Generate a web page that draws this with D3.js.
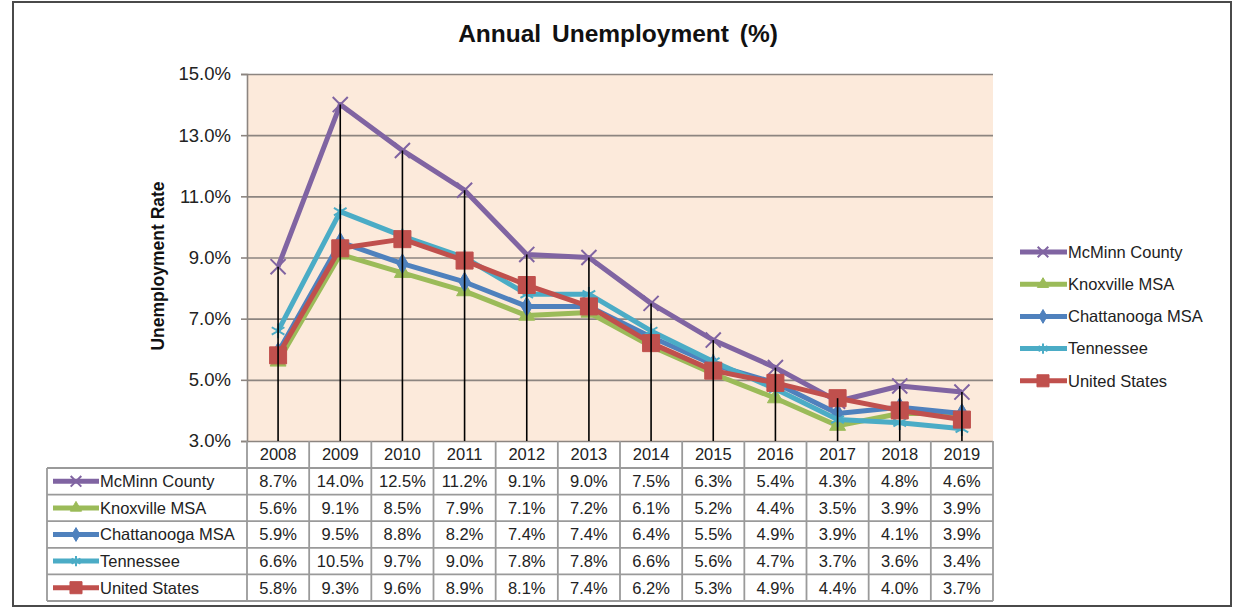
<!DOCTYPE html>
<html>
<head>
<meta charset="utf-8">
<script src="https://cdn.jsdelivr.net/npm/d3@7/dist/d3.min.js"></script>
<style>
  html, body { margin: 0; padding: 0; background: #fff; }
  svg { display: block; font-family: "Liberation Sans", Arial, sans-serif; }
</style>
</head>
<body>
<svg id="chart" width="1233" height="609"></svg>
<script>
// Annual unemployment rates (%) by area, 2008–2019
const years = ["2008","2009","2010","2011","2012","2013","2014","2015","2016","2017","2018","2019"];
const seriesNames = ["McMinn County", "Knoxville MSA", "Chattanooga MSA", "Tennessee", "United States"];
const mcminn      = [8.7, 14.0, 12.5, 11.2, 9.1, 9.0, 7.5, 6.3, 5.4, 4.3, 4.8, 4.6];
const knoxville   = [5.6, 9.1, 8.5, 7.9, 7.1, 7.2, 6.1, 5.2, 4.4, 3.5, 3.9, 3.9];
const chattanooga = [5.9, 9.5, 8.8, 8.2, 7.4, 7.4, 6.4, 5.5, 4.9, 3.9, 4.1, 3.9];
const tennessee   = [6.6, 10.5, 9.7, 9.0, 7.8, 7.8, 6.6, 5.6, 4.7, 3.7, 3.6, 3.4];
const unitedStates= [5.8, 9.3, 9.6, 8.9, 8.1, 7.4, 6.2, 5.3, 4.9, 4.4, 4.0, 3.7];
const yTicks = [3, 5, 7, 9, 11, 13, 15];

const seriesValues = [mcminn, knoxville, chattanooga, tennessee, unitedStates];
const colors = ["#8064A2", "#9BBB59", "#4F81BD", "#4BACC6", "#C0504D"];
// marker shape and whether it is stroked (open) or filled
const markers = [
  { type: d3.symbolTimes, size: 150, stroke: true },
  { type: d3.symbolTriangle, size: 110, stroke: false },
  { type: d3.symbolDiamond, size: 110, stroke: false },
  { type: d3.symbolAsterisk, size: 150, stroke: true },
  { type: d3.symbolSquare, size: 290, stroke: false }
];

const series = seriesNames.map((name, i) => ({
  name, color: colors[i], marker: markers[i],
  values: years.map((yr, j) => ({ year: yr, value: seriesValues[i][j] }))
}));

const svg = d3.select("#chart");

// outer frame
svg.append("rect").attr("x", 13).attr("y", 2).attr("width", 1218).attr("height", 604)
  .attr("fill", "#fff").attr("stroke", "#4a4a4a").attr("stroke-width", 2);

const plot = { left: 247, right: 993, top: 74, bottom: 441 };

const x = d3.scaleBand().domain(years).range([plot.left, plot.right]);
const y = d3.scaleLinear().domain([3, 15]).range([plot.bottom, plot.top]);

// title
svg.append("text").attr("x", 618).attr("y", 42).attr("text-anchor", "middle")
  .attr("font-size", 24.5).attr("font-weight", "bold").attr("fill", "#111")
  .attr("word-spacing", 4)
  .text("Annual Unemployment (%)");

// plot background
svg.append("rect").attr("x", plot.left).attr("y", plot.top)
  .attr("width", plot.right - plot.left).attr("height", plot.bottom - plot.top)
  .attr("fill", "#FCEADB");

// horizontal gridlines
const grid = svg.append("g").attr("transform", `translate(${plot.left},0)`)
  .call(d3.axisLeft(y).tickValues(yTicks).tickSize(-(plot.right - plot.left)).tickFormat(""));
grid.select(".domain").remove();
grid.selectAll(".tick line").attr("stroke", "#8c8580").attr("stroke-width", 1.6);

// y axis
const yAxis = svg.append("g").attr("transform", `translate(${plot.left},0)`)
  .call(d3.axisLeft(y).tickValues(yTicks).tickSize(6).tickPadding(10)
    .tickFormat(d => d.toFixed(1) + "%"));
yAxis.select(".domain").attr("stroke", "#8c8580").attr("stroke-width", 1.6);
yAxis.selectAll(".tick line").attr("stroke", "#8c8580").attr("stroke-width", 1.6);
yAxis.selectAll(".tick text").attr("font-size", 18.5).attr("fill", "#222")
  .attr("font-family", "Liberation Sans, Arial, sans-serif");

// y axis title
svg.append("text").attr("transform", "translate(164,266) rotate(-90)")
  .attr("text-anchor", "middle").attr("font-size", 17.5).attr("font-weight", "bold")
  .attr("fill", "#111").text("Unemployment Rate");

const line = d3.line().x(d => x(d.year) + x.bandwidth() / 2).y(d => y(d.value));

function drawMarker(sel, s) {
  const sym = d3.symbol().type(s.marker.type).size(s.marker.size);
  sel.attr("d", sym)
    .attr("fill", s.marker.stroke ? "none" : s.color)
    .attr("stroke", s.color)
    .attr("stroke-width", s.marker.stroke ? 2 : 1);
}

// series lines and markers
series.forEach(s => {
  const g = svg.append("g");
  g.append("path").datum(s.values).attr("d", line)
    .attr("fill", "none").attr("stroke", s.color).attr("stroke-width", 5)
    .attr("stroke-linejoin", "round");
  g.selectAll("path.m").data(s.values).join("path").attr("class", "m")
    .attr("transform", d => `translate(${x(d.year) + x.bandwidth() / 2},${y(d.value)})`)
    .call(sel => drawMarker(sel, s));
});

// drop lines from the highest value in each year down to the axis
svg.append("g").selectAll("line").data(years).join("line")
  .attr("x1", d => x(d) + x.bandwidth() / 2).attr("x2", d => x(d) + x.bandwidth() / 2)
  .attr("y1", (d, j) => y(d3.max(seriesValues, v => v[j])))
  .attr("y2", plot.bottom)
  .attr("stroke", "#000").attr("stroke-width", 1.6);

// legend
const legend = svg.append("g");
series.forEach((s, i) => {
  const ly = 252 + i * 32.2;
  const g = legend.append("g").attr("transform", `translate(0,${ly})`);
  g.append("line").attr("x1", 1020).attr("x2", 1067).attr("stroke", s.color).attr("stroke-width", 5);
  g.append("path").attr("transform", "translate(1043,0)")
    .call(sel => drawMarker(sel.datum(null), { ...s, marker: { ...s.marker, size: s.marker.size * 0.5 } }));
  g.append("text").attr("x", 1068).attr("y", 0).attr("dy", "0.35em")
    .attr("font-size", 16.5).attr("fill", "#222").text(s.name);
});

// data table
const table = { left: 47, headerTop: 441, top: 468, rowH: 26.6 };
const tbl = svg.append("g");
const gridColor = "#9a9a9a";
const nRows = series.length;
const tableBottom = table.top + nRows * table.rowH;

// header row of years
years.forEach(yr => {
  tbl.append("text").attr("x", x(yr) + x.bandwidth() / 2)
    .attr("y", (table.headerTop + table.top) / 2).attr("dy", "0.36em")
    .attr("text-anchor", "middle").attr("font-size", 16.5).attr("fill", "#222").text(yr);
});

// vertical cell borders
x.domain().concat(["end"]).forEach((yr, k) => {
  const xx = k < years.length ? x(yr) : plot.right;
  tbl.append("line").attr("x1", xx).attr("x2", xx)
    .attr("y1", table.headerTop).attr("y2", tableBottom)
    .attr("stroke", gridColor).attr("stroke-width", 1.8);
});
tbl.append("line").attr("x1", table.left).attr("x2", table.left)
  .attr("y1", table.top).attr("y2", tableBottom)
  .attr("stroke", gridColor).attr("stroke-width", 1.8);

// horizontal cell borders
d3.range(nRows + 1).forEach(r => {
  const yy = table.top + r * table.rowH;
  tbl.append("line").attr("x1", table.left).attr("x2", plot.right)
    .attr("y1", yy).attr("y2", yy).attr("stroke", gridColor).attr("stroke-width", 1.8);
});

// rows: legend key, name, values
series.forEach((s, i) => {
  const cy = table.top + i * table.rowH + table.rowH / 2;
  tbl.append("line").attr("x1", 53).attr("x2", 99).attr("y1", cy).attr("y2", cy)
    .attr("stroke", s.color).attr("stroke-width", 5);
  tbl.append("path").attr("transform", `translate(76,${cy})`)
    .call(sel => drawMarker(sel, { ...s, marker: { ...s.marker, size: s.marker.size * 0.5 } }));
  tbl.append("text").attr("x", 100).attr("y", cy).attr("dy", "0.36em")
    .attr("font-size", 16.5).attr("fill", "#222").text(s.name);
  s.values.forEach(d => {
    tbl.append("text").attr("x", x(d.year) + x.bandwidth() / 2).attr("y", cy).attr("dy", "0.36em")
      .attr("text-anchor", "middle").attr("font-size", 16.5).attr("fill", "#222")
      .text(d.value.toFixed(1) + "%");
  });
});
</script>
</body>
</html>
